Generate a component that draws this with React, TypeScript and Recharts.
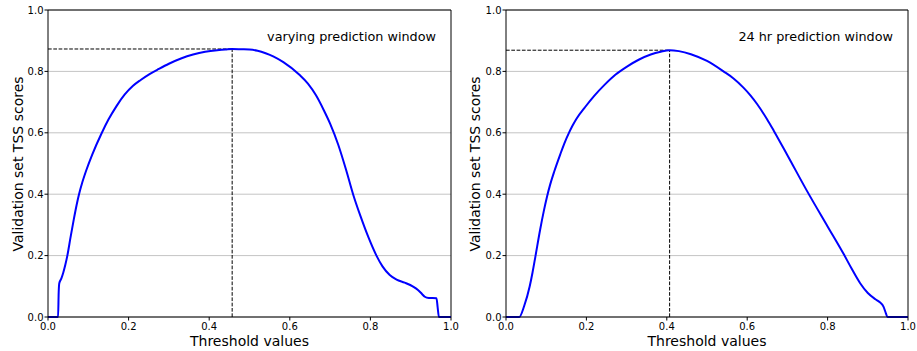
import { LineChart, Line, XAxis, YAxis, CartesianGrid, ReferenceLine, Label } from 'recharts';

// varying prediction window (left panel)
const varyingThresholds = [
  0, 0.025, 0.0265, 0.028, 0.033, 0.038, 0.043, 0.048, 0.056, 0.064, 0.071, 0.077, 0.085, 0.095, 0.11,
  0.1325, 0.15, 0.17, 0.19, 0.211, 0.23, 0.253, 0.275, 0.3, 0.33, 0.36, 0.39, 0.42, 0.44, 0.457,
  0.48, 0.5, 0.52, 0.54, 0.56, 0.584, 0.6246, 0.645, 0.665, 0.685, 0.7, 0.72, 0.74, 0.757, 0.775,
  0.795, 0.815, 0.83, 0.848, 0.865, 0.885, 0.906, 0.918, 0.928, 0.935, 0.945, 0.964, 0.967, 0.97, 1,
];
const varyingScores = [
  0, 0, 0.08, 0.11, 0.125, 0.145, 0.17, 0.2, 0.26, 0.318, 0.365, 0.4, 0.438, 0.478, 0.53,
  0.597, 0.643, 0.687, 0.724, 0.753, 0.772, 0.792, 0.808, 0.825, 0.842, 0.855, 0.864, 0.869, 0.871, 0.873,
  0.872, 0.871, 0.867, 0.859, 0.848, 0.83, 0.788, 0.76, 0.722, 0.672, 0.63, 0.562, 0.478, 0.4, 0.33,
  0.26, 0.2, 0.165, 0.137, 0.122, 0.112, 0.099, 0.088, 0.075, 0.066, 0.062, 0.061, 0.03, 0, 0,
];

// 24 hr prediction window (right panel)
const fixedThresholds = [
  0, 0.033, 0.045, 0.059, 0.066, 0.073, 0.085, 0.094, 0.102, 0.11, 0.12, 0.135, 0.145, 0.156, 0.165,
  0.175, 0.197, 0.22, 0.245, 0.272, 0.3, 0.33, 0.36, 0.385, 0.407, 0.43, 0.46, 0.5, 0.541, 0.566,
  0.59, 0.608, 0.625, 0.649, 0.666, 0.7, 0.749, 0.8, 0.84, 0.86, 0.881, 0.9, 0.919, 0.93, 0.939,
  0.945, 0.949, 1,
];
const fixedScores = [
  0, 0, 0.035, 0.1, 0.145, 0.196, 0.285, 0.345, 0.392, 0.432, 0.474, 0.53, 0.565, 0.598, 0.622,
  0.645, 0.684, 0.721, 0.756, 0.789, 0.815, 0.838, 0.855, 0.864, 0.869, 0.866, 0.856, 0.834, 0.8, 0.777,
  0.748, 0.722, 0.693, 0.645, 0.607, 0.527, 0.41, 0.295, 0.205, 0.157, 0.11, 0.078, 0.058, 0.048, 0.034,
  0.012, 0, 0,
];

const ticks = [0, 0.2, 0.4, 0.6, 0.8, 1.0];

const font = 'DejaVu Sans';

interface PanelProps {
  thresholds: number[];
  scores: number[];
  note: string;
  width: number;
  marginLeft: number;
  yLabelX: number;
}

function Panel({ thresholds, scores, note, width, marginLeft, yLabelX }: PanelProps) {
  const data = thresholds.map((t, i) => ({ t, s: scores[i] }));
  let best = 0;
  scores.forEach((s, i) => {
    if (s > scores[best]) best = i;
  });
  const bestT = thresholds[best];
  const bestS = scores[best];

  return (
    <LineChart width={width} height={351} data={data} margin={{ top: 10, right: 9, bottom: 4, left: marginLeft }}>
      <CartesianGrid vertical={false} stroke="#c4c4c4" strokeWidth={1} />
      <XAxis
        dataKey="t"
        type="number"
        domain={[0, 1]}
        ticks={ticks}
        tickFormatter={(v: number) => v.toFixed(1)}
        height={30}
        tickSize={3.5}
        tickMargin={2}
        stroke="#000"
        tick={{ fontSize: 10, fill: '#000', fontFamily: font }}
      >
        <Label
          content={(props: any) => {
            const vb = props.viewBox || { x: 0, width: 0 };
            return (
              <text x={vb.x + vb.width / 2} y={346} textAnchor="middle" fontSize={14} fontFamily={font} fill="#000">
                Threshold values
              </text>
            );
          }}
        />
      </XAxis>
      <YAxis
        type="number"
        domain={[0, 1]}
        ticks={ticks}
        tickFormatter={(v: number) => v.toFixed(1)}
        width={40}
        tickSize={3.5}
        tickMargin={1}
        stroke="#000"
        tick={{ fontSize: 10, fill: '#000', fontFamily: font }}
      >
        <Label
          content={() => (
            <text
              transform={`translate(${yLabelX},164) rotate(-90)`}
              textAnchor="middle"
              fontSize={14}
              fontFamily={font}
              fill="#000"
            >
              Validation set TSS scores
            </text>
          )}
        />
      </YAxis>
      <ReferenceLine y={1} stroke="#000" />
      <ReferenceLine x={1} stroke="#000" />
      <ReferenceLine
        segment={[{ x: 0, y: bestS }, { x: bestT, y: bestS }]}
        stroke="#000"
        strokeDasharray="3.7 1.6"
        strokeWidth={1}
      />
      <ReferenceLine
        segment={[{ x: bestT, y: 0 }, { x: bestT, y: bestS }]}
        stroke="#000"
        strokeDasharray="3.7 1.6"
        strokeWidth={1}
      >
        <Label
          content={() => (
            <text x={width - 24} y={41} textAnchor="end" fontSize={12.8} fontFamily={font} fill="#000">
              {note}
            </text>
          )}
        />
      </ReferenceLine>
      <Line
        dataKey="s"
        type="monotone"
        stroke="#0000ff"
        strokeWidth={2}
        dot={false}
        activeDot={false}
        isAnimationActive={false}
      />
    </LineChart>
  );
}

export default function App() {
  return (
    <div style={{ position: 'absolute', left: 0, top: 0, width: 917, height: 351, background: '#fff' }}>
      <div style={{ position: 'absolute', left: 0, top: 0 }}>
        <Panel
          thresholds={varyingThresholds}
          scores={varyingScores}
          note="varying prediction window"
          width={460}
          marginLeft={8}
          yLabelX={22.5}
        />
      </div>
      <div style={{ position: 'absolute', left: 460, top: 0 }}>
        <Panel
          thresholds={fixedThresholds}
          scores={fixedScores}
          note="24 hr prediction window"
          width={457}
          marginLeft={6}
          yLabelX={20}
        />
      </div>
    </div>
  );
}
